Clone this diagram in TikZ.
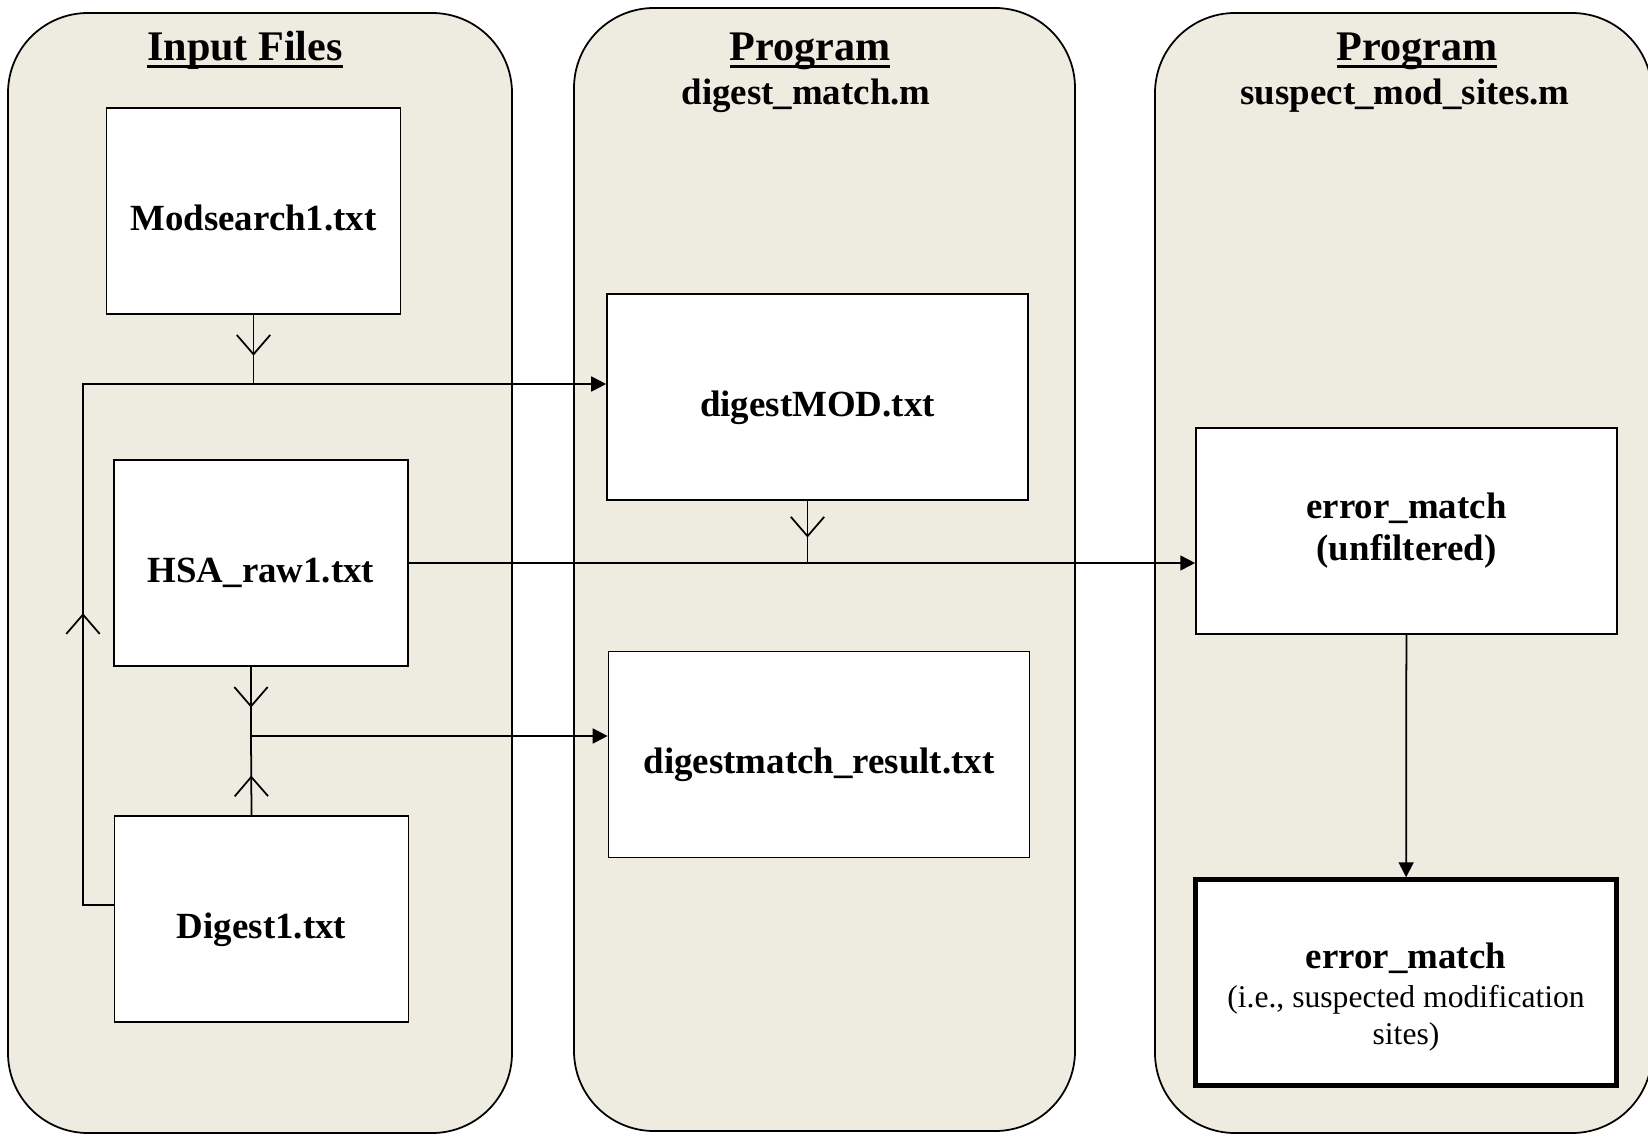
\documentclass[tikz,border=0pt]{standalone}
\usepackage{fontspec}
\setmainfont{Liberation Serif}
\usetikzlibrary{arrows.meta, calc, positioning, decorations.markings}
\definecolor{panelfill}{HTML}{EEECE1}
\newcommand{\headrule}[1]{\setbox0=\hbox{#1}\rlap{\rule[-4pt]{\wd0}{1.7pt}}\box0}
\tikzset{DataFlow/.style={
    x = 0.02cm, y = -0.02cm,
    line width = 1pt,
    panel/.style = {draw, fill=panelfill, rounded corners=1.6cm},
    heading/.style = {font=\fontsize{24}{28}\selectfont\bfseries, inner sep=0pt, anchor=base},
    subheading/.style = {font=\fontsize{21}{25}\selectfont\bfseries, inner sep=0pt, anchor=base},
    boxbase/.style = {draw, fill=white, inner sep=0pt, align=center, minimum height=4.12cm,
                      font=\fontsize{21}{24}\selectfont\bfseries},
    oneline/.style = {text height=22pt, text depth=0pt},
    filebox/.style = {boxbase, oneline, minimum width=5.88cm},
    outbox/.style = {boxbase, minimum width=8.42cm},
    flow/.style = {-{Triangle[length=8.5pt, width=8.5pt]}},
    midv/.style = {postaction={decorate}, decoration={markings,
                   mark=at position ##1 with {\arrow{Straight Barb[length=11pt, width=19pt]}}}}
}}

\begin{document}
\begin{tikzpicture}[DataFlow]
        \useasboundingbox (0,0) rectangle (1648,1135);
        \draw [panel] (8,13) rectangle (512,1133);
        \draw [panel] (574,8) rectangle (1075,1131);
        \draw [panel] (1155,13) rectangle (1652,1133);

        \node [heading] (inTitle) at (245,61) {\headrule{Input Files}};
        \node [heading] (dmTitle) at (810,61) {\headrule{Program}};
        \node [subheading] (dmName) at (806,105) {digest\_match.m};
        \node [heading] (smTitle) at (1417,61) {\headrule{Program}};
        \node [subheading] (smName) at (1405,105) {suspect\_mod\_sites.m};

        \node [filebox] (mods) at (253.5,211) {Modsearch1.txt};
        \node [filebox] (hsa) at (261,563) {HSA\_raw1.txt};
        \node [filebox] (dig) at (261.5,919) {Digest1.txt};
        \node [outbox, oneline] (dmod) at (817.5,397) {digestMOD.txt};
        \node [outbox, oneline] (dres) at (819,754.5) {digestmatch\_result.txt};
        \node [outbox] (errA) at (1406.5,531) {error\_match\\(unfiltered)};
        \node [outbox, line width=2.6pt, font=\fontsize{18}{21}\selectfont] (errB) at (1406,982.5) {
            {\fontsize{21}{24}\selectfont\bfseries\rule{0pt}{31pt}error\_match}\\[1pt]
            (i.e., suspected modification\\
            sites)
        };

        \coordinate (loopTop) at (83,384);
        \coordinate (joinMid) at (251,736);

        \draw [midv=0.59] (mods.south) -- (mods.south |- loopTop);
        \draw [flow, midv=0.30] ([yshift=0.28cm]dig.west) -| (loopTop) -- (dmod.west |- loopTop);
        \draw [flow] (hsa.east) -- (errA.west |- hsa.east);
        \draw [midv=0.59] ([xshift=-0.2cm]dmod.south) -- ([xshift=-0.2cm]dmod.south |- hsa.east);
        \draw [midv=0.59] ([xshift=-0.2cm]hsa.south) -- (joinMid);
        \draw [midv=0.5] ([xshift=-0.2cm]dig.north) -- (joinMid);
        \draw [flow] (joinMid) -- (dres.west |- joinMid);
        \draw [flow] (errA) -- (errB);
    \end{tikzpicture}
\end{document}
